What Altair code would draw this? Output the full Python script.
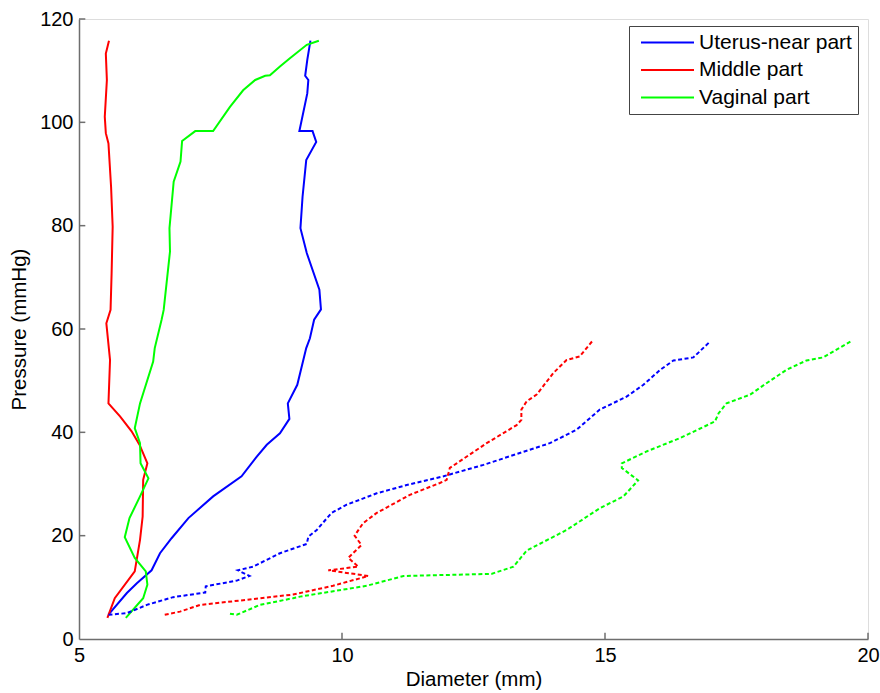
import altair as alt
import pandas as pd

# ---------------- data ----------------
SERIES = ["Uterus-near part", "Middle part", "Vaginal part"]
COLORS = ["#0000ff", "#ff0000", "#00ff00"]

# Solid curves
blue_solid_x = [5.56, 5.91, 6.10, 6.38, 6.54, 6.76, 7.08, 7.55, 8.09, 8.38, 8.57, 8.82, 9.00, 8.97,
                9.15, 9.32, 9.39, 9.47, 9.60, 9.57, 9.33, 9.21, 9.25, 9.32, 9.51, 9.44, 9.19, 9.34,
                9.36, 9.30, 9.34, 9.40]
blue_solid_y = [4.7, 8.9, 10.8, 13.3, 16.6, 19.5, 23.4, 27.6, 31.5, 35.3, 37.6, 39.8, 42.6, 45.6,
                49.2, 56.3, 58.2, 61.8, 63.8, 67.6, 74.7, 79.5, 85.6, 92.7, 96.2, 98.3, 98.3, 105.6,
                108.2, 109.0, 112.1, 115.8]

red_solid_x = [5.54, 5.68, 6.06, 6.16, 6.21, 6.22, 6.30, 6.15, 6.00, 5.78, 5.56, 5.59, 5.52, 5.60,
               5.62, 5.64, 5.61, 5.56, 5.51, 5.49, 5.53, 5.51, 5.57]
red_solid_y = [4.1, 7.9, 13.1, 19.2, 23.7, 30.8, 34.0, 37.6, 40.2, 43.1, 45.6, 54.0, 61.1, 63.7,
               70.8, 79.8, 87.5, 95.9, 97.9, 101.1, 108.2, 113.3, 115.8]

green_solid_x = [5.89, 6.22, 6.30, 6.27, 6.06, 5.87, 5.96, 6.16, 6.32, 6.17, 6.16, 6.06, 6.16, 6.41,
                 6.44, 6.57, 6.61, 6.73, 6.72, 6.80, 6.93, 6.96, 7.21, 7.55, 7.87, 8.12, 8.35, 8.54,
                 8.63, 8.82, 9.01, 9.33, 9.56]
green_solid_y = [4.1, 7.9, 10.5, 13.1, 15.7, 19.7, 23.4, 27.6, 31.1, 34.0, 37.9, 40.8, 45.6, 53.7,
                 56.3, 61.8, 63.7, 75.0, 79.5, 88.5, 92.4, 96.4, 98.3, 98.3, 103.0, 106.2, 108.2,
                 109.0, 109.1, 110.8, 112.4, 115.0, 115.8]

# Dashed curves
blue_dash_x = [5.56, 5.91, 6.29, 6.79, 7.40, 7.41, 8.00, 8.24, 8.02, 8.31, 8.82, 9.33, 9.36, 9.52,
               9.80, 10.09, 10.66, 11.23, 11.93, 12.69, 13.38, 13.95, 14.46, 14.90, 15.41, 15.73,
               16.05, 16.30, 16.68, 17.00]
blue_dash_y = [4.7, 5.0, 6.6, 8.1, 9.0, 10.2, 11.3, 12.2, 13.3, 14.0, 16.6, 18.4, 19.8, 21.1,
               24.4, 26.0, 28.2, 29.8, 31.5, 33.7, 36.0, 37.9, 40.5, 44.4, 46.9, 49.2, 52.1, 53.9,
               54.5, 57.6]

red_dash_x = [6.63, 6.92, 7.30, 7.93, 9.07, 9.83, 10.50, 9.74, 10.31, 10.12, 10.37, 10.24, 10.40,
              10.66, 11.29, 11.86, 11.99, 12.05, 12.18, 12.75, 13.32, 13.41, 13.41, 13.51, 13.70,
              14.02, 14.27, 14.52, 14.77]
red_dash_y = [4.7, 5.3, 6.6, 7.3, 8.6, 10.3, 12.2, 13.3, 14.0, 15.7, 18.2, 20.0, 22.4, 24.4, 27.9,
              30.2, 30.8, 33.1, 34.0, 37.9, 41.4, 42.4, 44.4, 46.0, 47.3, 51.5, 54.0, 54.7, 57.8]

green_dash_x = [7.87, 8.00, 8.44, 9.07, 9.20, 10.47, 11.17, 12.84, 13.26, 13.51, 14.27, 14.90,
                15.35, 15.63, 15.32, 15.32, 15.79, 16.43, 17.09, 17.16, 17.31, 17.76, 18.07,
                18.45, 18.83, 19.15, 19.67]
green_dash_y = [4.9, 4.7, 6.6, 7.9, 8.2, 10.3, 12.2, 12.6, 14.0, 17.1, 21.1, 25.3, 27.6, 30.7,
                33.1, 34.0, 36.3, 38.9, 42.1, 43.7, 45.6, 47.3, 49.5, 52.1, 53.9, 54.5, 57.6]

X_TICKS = [5, 10, 15, 20]
Y_TICKS = [0, 20, 40, 60, 80, 100, 120]

# ---------------- tables ----------------
rows = []
for name, xs, ys, style in [
    (SERIES[0], blue_solid_x, blue_solid_y, "solid"),
    (SERIES[1], red_solid_x, red_solid_y, "solid"),
    (SERIES[2], green_solid_x, green_solid_y, "solid"),
    (SERIES[0], blue_dash_x, blue_dash_y, "dashed"),
    (SERIES[1], red_dash_x, red_dash_y, "dashed"),
    (SERIES[2], green_dash_x, green_dash_y, "dashed"),
]:
    for i, (xv, yv) in enumerate(zip(xs, ys)):
        rows.append({"series": name, "style": style, "key": name + style, "i": i, "x": xv, "y": yv})
df = pd.DataFrame(rows)

xt = pd.DataFrame({"t": X_TICKS[1:]})
yt = pd.DataFrame({"t": Y_TICKS[1:]})

W, H = 789, 620
FONT = "Liberation Sans"
AXIS_GRAY = "#6e6e6e"

xscale = alt.Scale(domain=[5, 20], nice=False, zero=False)
yscale = alt.Scale(domain=[0, 120], nice=False, zero=False)
cscale = alt.Scale(domain=SERIES, range=COLORS)

base = alt.Chart(df)

solid = base.transform_filter(alt.datum.style == "solid").mark_line(strokeWidth=2).encode(
    x=alt.X("x:Q", scale=xscale,
            axis=alt.Axis(title="Diameter (mm)", values=X_TICKS, ticks=False, grid=False,
                          domainColor=AXIS_GRAY, domainWidth=1.5, labelFontSize=20,
                          labelFont=FONT, labelColor="black", labelPadding=6,
                          titleFont=FONT, titleFontSize=20.5, titleFontWeight="normal",
                          titleColor="black", titlePadding=4, labelFlush=False)),
    y=alt.Y("y:Q", scale=yscale,
            axis=alt.Axis(title="Pressure (mmHg)", values=Y_TICKS, ticks=False, grid=False,
                          domainColor=AXIS_GRAY, domainWidth=1.5, labelFontSize=20,
                          labelFont=FONT, labelColor="black", labelPadding=6,
                          titleFont=FONT, titleFontSize=20.5, titleFontWeight="normal",
                          titleColor="black", titlePadding=10, labelFlush=False)),
    color=alt.Color("series:N", scale=cscale, sort=SERIES,
                    legend=alt.Legend(title=None, orient="none", legendX=550, legendY=7,
                                      symbolType="stroke", symbolSize=2809,
                                      symbolStrokeWidth=2, symbolOffset=5,
                                      labelFontSize=21, labelFont=FONT,
                                      labelColor="black", labelOffset=4,
                                      clipHeight=21, rowPadding=5.5,
                                      strokeColor="#444444", fillColor="white",
                                      padding=6)),
    order="i:Q",
    detail="key:N",
)

dashed = base.transform_filter(alt.datum.style == "dashed").mark_line(
    strokeWidth=2, strokeDash=[4, 2.5]).encode(
    x=alt.X("x:Q", scale=xscale),
    y=alt.Y("y:Q", scale=yscale),
    color=alt.Color("series:N", scale=cscale, legend=None),
    order="i:Q",
    detail="key:N",
)

xticks = alt.Chart(xt).mark_rule(color=AXIS_GRAY, strokeWidth=1.5).encode(
    x=alt.X("t:Q", scale=xscale),
    y=alt.datum(0),
    y2=alt.datum(1.2),
)
yticks = alt.Chart(yt).mark_rule(color=AXIS_GRAY, strokeWidth=1.5).encode(
    y=alt.Y("t:Q", scale=yscale),
    x=alt.datum(5),
    x2=alt.datum(5.12),
)

chart = alt.layer(solid, dashed, xticks, yticks).properties(
    width=W, height=H,
    autosize=alt.AutoSizeParams(type="none"),
    padding={"left": 79, "top": 19, "right": 12, "bottom": 54},
).configure_view(stroke=None).configure(background="white")

chart.save("out.html", embed_options={"renderer": "svg", "actions": False})
